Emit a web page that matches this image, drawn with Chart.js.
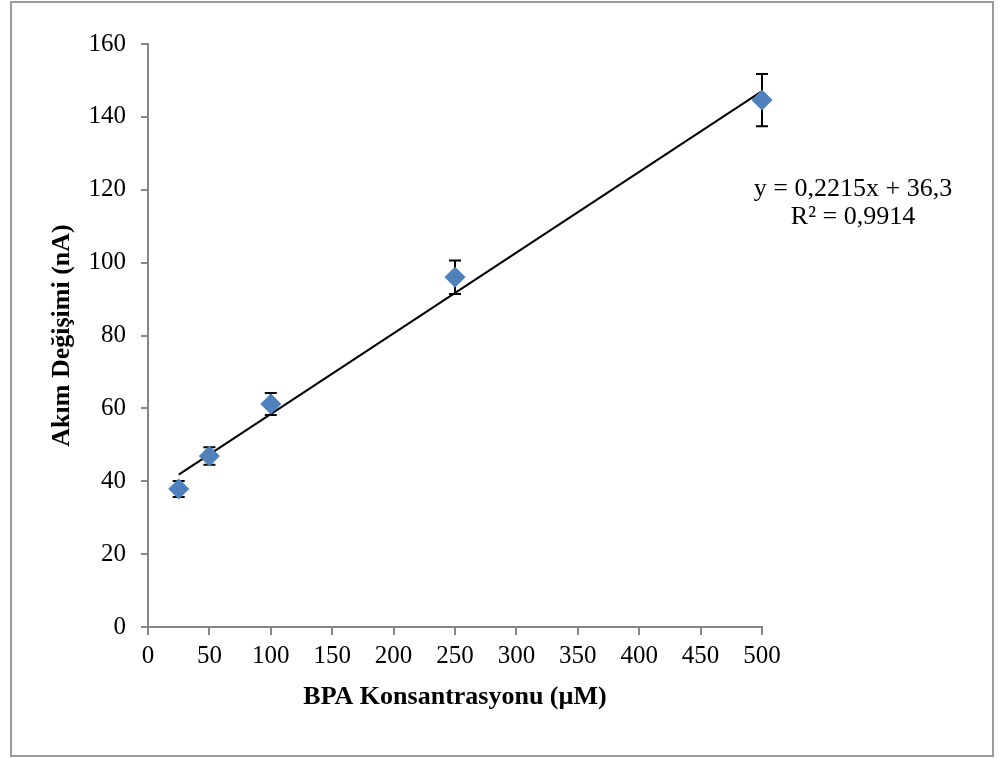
<!DOCTYPE html>
<html>
<head>
<meta charset="utf-8">
<script src="https://cdn.jsdelivr.net/npm/chart.js@4.4.1/dist/chart.umd.min.js"></script>
<style>
  html, body { margin: 0; padding: 0; background: #ffffff; }
  #wrap { width: 999px; height: 758px; position: relative; }
</style>
</head>
<body>
<div id="wrap"><canvas id="c" width="999" height="758"></canvas></div>
<script>
// ---- data ----
const concentrations = [25, 50, 100, 250, 500];          // BPA Konsantrasyonu (µM)
const currentChange  = [37.9, 46.9, 61.2, 96.0, 144.6];  // Akım Değişimi (nA)
const errorValues    = [2.2, 2.4, 3.0, 4.6, 7.2];        // ± error
const trendX = [25, 500];
const trendY = [41.8, 147.05];                            // y = 0,2215x + 36,3
const equationLines = ['y = 0,2215x + 36,3', 'R² = 0,9914'];
const xTitle = 'BPA Konsantrasyonu (µM)';
const yTitle = 'Akım Değişimi (nA)';

const FONT = "'Liberation Serif', 'Times New Roman', serif";
const AXIS_GRAY = '#868686';

const borderPlugin = {
  id: 'outerBorder',
  beforeDraw(chart) {
    const ctx = chart.ctx;
    ctx.save();
    ctx.fillStyle = '#ffffff';
    ctx.fillRect(0, 0, chart.width, chart.height);
    ctx.strokeStyle = '#9a9a9a';
    ctx.lineWidth = 2;
    ctx.strokeRect(11, 2, 982, 754);
    ctx.restore();
  }
};

const errorBarPlugin = {
  id: 'errorBars',
  beforeDatasetsDraw(chart) {
    const ctx = chart.ctx;
    const xs = chart.scales.x, ys = chart.scales.y;
    ctx.save();
    ctx.strokeStyle = '#000000';
    ctx.lineWidth = 2;
    concentrations.forEach((cx, i) => {
      const px = xs.getPixelForValue(cx);
      const top = ys.getPixelForValue(currentChange[i] + errorValues[i]);
      const bot = ys.getPixelForValue(currentChange[i] - errorValues[i]);
      ctx.beginPath();
      ctx.moveTo(px, top); ctx.lineTo(px, bot);
      ctx.moveTo(px - 6, top); ctx.lineTo(px + 6, top);
      ctx.moveTo(px - 6, bot); ctx.lineTo(px + 6, bot);
      ctx.stroke();
    });
    ctx.restore();
  }
};

const equationPlugin = {
  id: 'equation',
  afterDatasetsDraw(chart) {
    const ctx = chart.ctx;
    ctx.save();
    ctx.font = '26px ' + FONT;
    ctx.fillStyle = '#000000';
    ctx.textAlign = 'center';
    ctx.textBaseline = 'middle';
    ctx.fillText(equationLines[0], 853, 189);
    ctx.fillText(equationLines[1], 853, 217);
    ctx.restore();
  }
};

new Chart(document.getElementById('c'), {
  type: 'scatter',
  data: {
    datasets: [
      {
        label: 'data',
        data: concentrations.map((x, i) => ({ x: x, y: currentChange[i] })),
        pointStyle: 'rectRot',
        pointRadius: 10,
        pointHoverRadius: 10,
        backgroundColor: '#4F81BD',
        borderColor: '#4A7EBB',
        borderWidth: 1,
        clip: false,
        order: 1
      },
      {
        type: 'line',
        label: 'trend',
        data: trendX.map((x, i) => ({ x: x, y: trendY[i] })),
        borderColor: '#000000',
        borderWidth: 2,
        pointRadius: 0,
        fill: false,
        clip: false,
        order: 2
      }
    ]
  },
  options: {
    responsive: false,
    animation: false,
    devicePixelRatio: 1,
    layout: { padding: { left: 0, right: 237, top: 44, bottom: 0 } },
    plugins: {
      legend: { display: false },
      tooltip: { enabled: false }
    },
    scales: {
      x: {
        type: 'linear',
        min: 0, max: 500,
        ticks: { stepSize: 50, color: '#000', padding: 6, font: { family: FONT, size: 25 }, maxRotation: 0 },
        grid: { display: true, drawOnChartArea: false, drawTicks: true, tickLength: 8, color: AXIS_GRAY, lineWidth: 2 },
        border: { display: true, color: AXIS_GRAY, width: 2 },
        title: { display: true, text: xTitle, color: '#000', font: { family: FONT, size: 26, weight: 'bold' }, padding: { top: 0, bottom: 45 } },
        afterFit(scale) { scale.height = 131; }
      },
      y: {
        type: 'linear',
        min: 0, max: 160,
        ticks: { stepSize: 20, color: '#000', padding: 15, font: { family: FONT, size: 25 } },
        grid: { display: true, drawOnChartArea: false, drawTicks: true, tickLength: 7, color: AXIS_GRAY, lineWidth: 2 },
        border: { display: true, color: AXIS_GRAY, width: 2 },
        title: { display: true, text: yTitle, color: '#000', font: { family: FONT, size: 26, weight: 'bold' }, padding: { top: 47, bottom: 0 } },
        afterFit(scale) { scale.width = 148; }
      }
    }
  },
  plugins: [borderPlugin, errorBarPlugin, equationPlugin]
});
</script>
</body>
</html>
